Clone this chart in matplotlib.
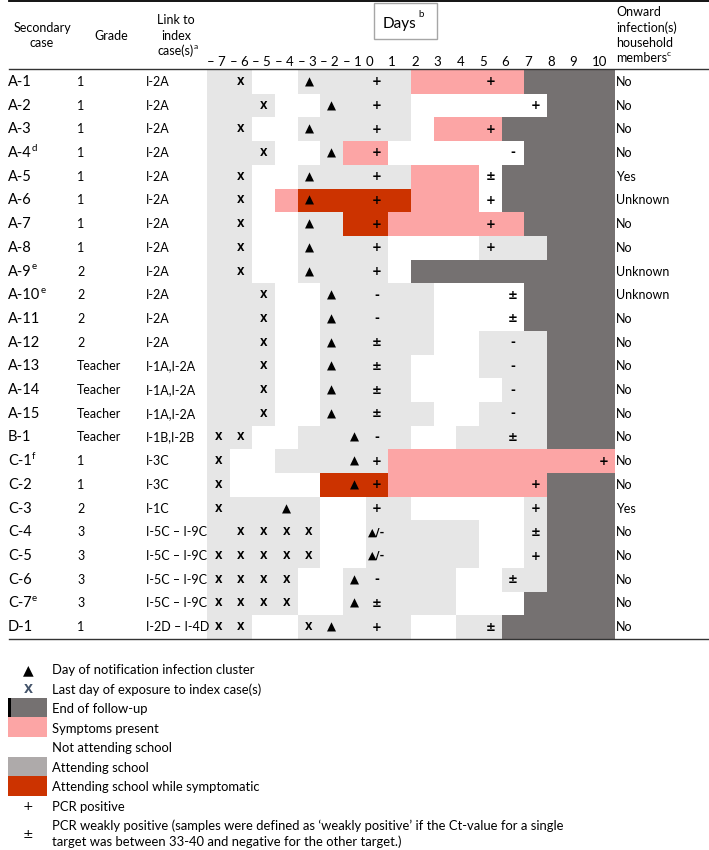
import matplotlib
matplotlib.use("Agg")
import matplotlib.pyplot as plt
import matplotlib.transforms as mtransforms
from matplotlib.patches import Rectangle

plt.rcParams['font.family'] = ['Lato', 'DejaVu Sans']

# ---- data ----
days = list(range(-7, 11))

cases = ["A-1", "A-2", "A-3", "A-4", "A-5", "A-6", "A-7", "A-8", "A-9", "A-10",
         "A-11", "A-12", "A-13", "A-14", "A-15", "B-1",
         "C-1", "C-2", "C-3", "C-4", "C-5", "C-6", "C-7", "D-1"]
notes = {"A-4": "d", "A-9": "e", "A-10": "e", "C-1": "f", "C-7": "e"}
grades = ["1", "1", "1", "1", "1", "1", "1", "1", "2", "2", "2", "2",
          "Teacher", "Teacher", "Teacher", "Teacher",
          "1", "1", "2", "3", "3", "3", "3", "1"]
links = ["I-2A"] * 12 + ["I-1A,I-2A"] * 3 + ["I-1B,I-2B", "I-3C", "I-3C", "I-1C"] \
    + ["I-5C \u2013 I-9C"] * 4 + ["I-2D \u2013 I-4D"]
onward = ["No", "No", "No", "No", "Yes", "Unknown", "No", "No", "Unknown", "Unknown",
          "No", "No", "No", "No", "No", "No", "No", "No", "Yes", "No", "No", "No", "No", "No"]

# one letter per day (-7..10): g attending, w not attending, p symptoms,
# r attending while symptomatic, d end of follow-up
status = [
    "ggwwgggggpppppdddd",  # A-1
    "gggwwggggwwwwwwddd",  # A-2
    "ggwwgggggwpppddddd",  # A-3
    "gggwwgppwwwwwwdddd",  # A-4
    "ggwwgggggpppwddddd",  # A-5
    "ggwprrrrrpppwddddd",  # A-6
    "ggwwggrrppppppdddd",  # A-7
    "ggwwggggwwwwgggddd",  # A-8
    "ggwwggggwddddddddd",  # A-9
    "gggwwgggggwwwwdddd",  # A-10
    "gggwwgggggwwwwdddd",  # A-11
    "gggwwgggggwwgggddd",  # A-12
    "gggwwggggwwwgggddd",  # A-13
    "gggwwggggwwwwggddd",  # A-14
    "gggwwgggggwwgggddd",  # A-15
    "ggwwgggggwwggggddd",  # B-1
    "gwwgggggpppppppppp",  # C-1
    "gwwwwrrrpppppppddd",  # C-2
    "gggggwwggwwwwwgddd",  # C-3
    "gggggwwgggggwwgddd",  # C-4
    "gggggwwgggggwwgddd",  # C-5
    "ggggwwgggggwwggddd",  # C-6
    "ggggwwgggggwwwdddd",  # C-7
    "ggwwgggggwwggddddd",  # D-1
]

# day + symbol: x exposure, ^ notification, + positive, ± weak, - negative, / "▲/-"
marks = [
    "-6x -3^ 0+ 5+", "-5x -2^ 0+ 7+", "-6x -3^ 0+ 5+", "-5x -2^ 0+ 6-",
    "-6x -3^ 0+ 5±", "-6x -3^ 0+ 5+", "-6x -3^ 0+ 5+", "-6x -3^ 0+ 5+",
    "-6x -3^ 0+", "-5x -2^ 0- 6±", "-5x -2^ 0- 6±", "-5x -2^ 0± 6-",
    "-5x -2^ 0± 6-", "-5x -2^ 0± 6-", "-5x -2^ 0± 6-", "-7x -6x -1^ 0- 6±",
    "-7x -1^ 0+ 10+", "-7x -1^ 0+ 7+", "-7x -4^ 0+ 7+", "-6x -5x -4x -3x 0/ 7±",
    "-7x -6x -5x -4x -3x 0/ 7+", "-7x -6x -5x -4x -1^ 0- 6±", "-7x -6x -5x -4x -1^ 0±",
    "-7x -6x -3x -2^ 0+ 5±",
]

legend_labels = [
    "Day of notification infection cluster",
    "Last day of exposure to index case(s)",
    "End of follow-up",
    "Symptoms present",
    "Not attending school",
    "Attending school",
    "Attending school while symptomatic",
    "PCR positive",
    "PCR weakly positive (samples were defined as \u2018weakly positive\u2019 if the Ct-value for a single\n"
    "target was between 33-40 and negative for the other target.)",
]

colors = {"g": "#e6e6e6", "w": "#ffffff", "p": "#fca5a5", "r": "#cc3300", "d": "#757171"}
sym_text = {"x": "X", "+": "+", "±": "±", "-": "-", "^": "\u25b2", "/": "\u25b2/-"}
sym_size = {"x": 7, "+": 8.5, "±": 8.5, "-": 8.5, "^": 8.5, "/": 8}

W, H = 709, 850
fig = plt.figure(figsize=(W / 100, H / 100), dpi=100)

grid = fig.add_axes([207 / W, 1 - 639 / H, 408 / W, 569 / H])
grid.set_xlim(-7.5, 10.5)
grid.set_ylim(len(cases) - 0.5, -0.5)
grid.axis("off")

over = fig.add_axes([0, 0, 1, 1])
over.set_xlim(0, W)
over.set_ylim(H, 0)
over.axis("off")
over.patch.set_alpha(0)

# cells: merge runs of the same status into one bar
for i, row in enumerate(status):
    start = 0
    for j in range(1, len(row) + 1):
        if j == len(row) or row[j] != row[start]:
            grid.bar(days[start] - 0.5, 1, width=j - start, bottom=i - 0.5, align="edge",
                     color=colors[row[start]], linewidth=0)
            start = j

for i, row in enumerate(marks):
    for tok in row.split():
        d, s = int(tok[:-1]), tok[-1]
        grid.text(d, i, sym_text[s], ha="center", va="center", fontsize=sym_size[s],
                  fontweight="bold", family="DejaVu Sans")

# left/right columns, x in pixels, y in row units
rowtf = mtransforms.blended_transform_factory(over.transData, grid.transData)
for i, c in enumerate(cases):
    t = over.text(8, i, c, transform=rowtf, va="center", fontsize=10.5)
    if c in notes:
        over.annotate(notes[c], xy=(1.0, 0.85), xycoords=t, va="center", fontsize=7)
    over.text(77, i, grades[i], transform=rowtf, va="center", fontsize=9)
    over.text(146, i, links[i], transform=rowtf, va="center", fontsize=9)
    over.text(616, i, onward[i], transform=rowtf, va="center", fontsize=9)

# day labels
coltf = mtransforms.blended_transform_factory(grid.transData, over.transData)
for d in days:
    lab = "\u2013 %d" % abs(d) if d < 0 else str(d)
    over.text(d - 0.5, 62, lab, transform=coltf, ha="left", va="center", fontsize=9.5)


def header(x, ys, lines, ha, sup=None):
    t = None
    for y, line in zip(ys, lines):
        t = over.text(x, y, line, ha=ha, va="center", fontsize=9)
    if sup:
        over.annotate(sup, xy=(1.0, 0.85), xycoords=t, va="center", fontsize=6)


header(42, [28, 43], ["Secondary", "case"], "center")
header(111, [36], ["Grade"], "center")
header(176, [20, 36, 51], ["Link to", "index", "case(s)"], "center", "a")
header(616, [12, 28, 43, 58], ["Onward", "infection(s)", "household", "members"], "left", "c")

over.add_patch(Rectangle((374, 3), 63, 36, fill=False, edgecolor="#a6a6a6", linewidth=1))
over.text(400, 24, "Days", ha="center", va="center", fontsize=11)
over.text(418, 14, "b", va="center", fontsize=7)

over.plot([9, 709], [1, 1], color="black", linewidth=1.3)
over.plot([9, 709], [69, 69], color="#333333", linewidth=1)
over.plot([9, 709], [639, 639], color="#333333", linewidth=1)

# legend
leg_y = [670 + 19.57 * k for k in range(8)] + [834]
for k, (y, lab) in enumerate(zip(leg_y, legend_labels)):
    over.text(52, y, lab, va="center", fontsize=9.4, linespacing=1.35)
    if k == 0:
        over.text(28, y, "\u25b2", ha="center", va="center", fontsize=10, family="DejaVu Sans")
    elif k == 1:
        over.text(28, y, "X", ha="center", va="center", fontsize=8.5, fontweight="bold",
                  family="DejaVu Sans", color="#44546a")
    elif k in (2, 3, 5, 6):
        fc = {2: colors["d"], 3: colors["p"], 5: "#aeaaaa", 6: colors["r"]}[k]
        over.add_patch(Rectangle((8, y - 11.3), 39, 19.6, facecolor=fc, edgecolor="none"))
        if k == 2:
            over.add_patch(Rectangle((8, y - 11.3), 2.5, 19.6, facecolor="black", edgecolor="none"))
    elif k == 7:
        over.text(28, y, "+", ha="center", va="center", fontsize=9, family="DejaVu Sans")
    elif k == 8:
        over.text(28, y, "±", ha="center", va="center", fontsize=9, family="DejaVu Sans")

fig.savefig("out.png", dpi=100)
